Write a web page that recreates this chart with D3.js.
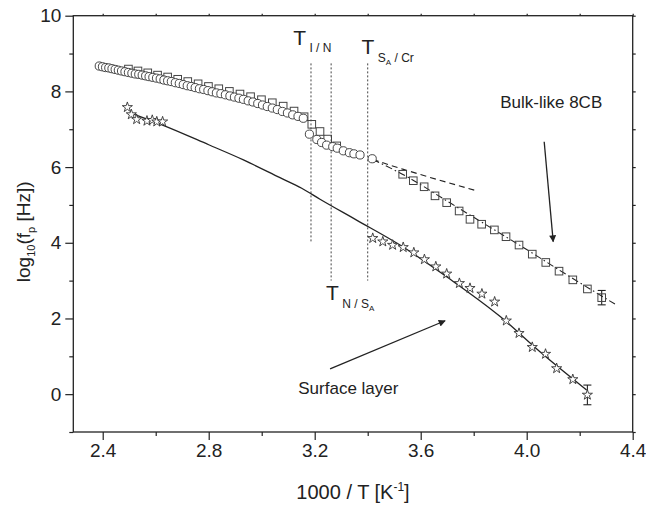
<!DOCTYPE html>
<html>
<head>
<meta charset="utf-8">
<script src="https://cdn.jsdelivr.net/npm/d3@7"></script>
<style>
body{margin:0;background:#fff;}
svg text{font-family:"Liberation Sans",Arial,sans-serif;fill:#222;}
</style>
</head>
<body>
<div id="root"></div>
<script>
// data: [1000/T, log10(fp)]
var circles=[[2.387,8.67],[2.399,8.65],[2.411,8.63],[2.423,8.62],[2.435,8.60],[2.447,8.58],[2.459,8.56],[2.471,8.54],[2.484,8.52],[2.497,8.50],
[2.510,8.48],[2.523,8.46],[2.536,8.45],[2.549,8.43],[2.562,8.41],[2.575,8.39],[2.589,8.37],[2.603,8.35],[2.617,8.33],[2.631,8.30],
[2.645,8.28],[2.659,8.26],[2.674,8.23],[2.689,8.21],[2.704,8.18],[2.719,8.15],[2.734,8.13],[2.749,8.10],[2.765,8.07],[2.781,8.05],
[2.797,8.02],[2.813,7.99],[2.829,7.96],[2.846,7.94],[2.863,7.91],[2.880,7.88],[2.897,7.85],[2.914,7.82],[2.931,7.79],[2.949,7.75],
[2.967,7.72],[2.985,7.68],[3.003,7.64],[3.021,7.60],[3.040,7.56],[3.059,7.52],[3.078,7.47],[3.097,7.43],[3.117,7.38],[3.137,7.34],[3.157,7.29],
[3.180,6.87],[3.208,6.73],[3.226,6.65],[3.245,6.58],[3.268,6.54],[3.285,6.50],[3.308,6.43],[3.331,6.38],[3.348,6.35],[3.371,6.32],[3.417,6.22]];

var squares=[[2.497,8.59],[2.533,8.54],[2.570,8.49],[2.607,8.43],[2.645,8.38],[2.683,8.32],[2.721,8.26],[2.760,8.20],[2.799,8.13],[2.838,8.07],
[2.878,8.00],[2.918,7.93],[2.958,7.86],[2.999,7.78],[3.040,7.70],[3.081,7.61],[3.122,7.48],[3.160,7.33],[3.189,7.13],[3.220,6.94],[3.249,6.74],[3.283,6.56],
[3.532,5.81],[3.572,5.64],[3.613,5.48],[3.654,5.24],[3.698,5.06],[3.745,4.84],[3.786,4.62],[3.830,4.49],[3.878,4.34],[3.922,4.16],
[3.971,3.94],[4.021,3.70],[4.072,3.48],[4.122,3.25],[4.174,3.02],[4.229,2.78],[4.283,2.55]];
var squareErr=[[4.283,0.19]];

var stars=[[2.493,7.58],[2.508,7.39],[2.528,7.26],[2.567,7.22],[2.587,7.24],[2.604,7.20],[2.626,7.20],
[3.419,4.12],[3.457,4.03],[3.494,3.94],[3.534,3.88],[3.574,3.74],[3.614,3.56],[3.657,3.37],[3.698,3.18],[3.746,2.93],
[3.786,2.80],[3.831,2.65],[3.879,2.44],[3.923,1.94],[3.971,1.61],[4.021,1.24],[4.071,1.06],[4.113,0.68],[4.174,0.39],[4.229,-0.02]];
var starErr=[[4.229,0.26]];

var surfaceFit=[[2.516,7.40],[2.626,7.11],[2.800,6.59],[2.931,6.19],[3.069,5.72],[3.151,5.44],[3.220,5.15],[3.358,4.60],
[3.522,3.94],[3.698,3.10],[3.900,2.05],[4.050,1.12],[4.226,0.11]];
var bulkFit=[[3.419,6.20],[3.550,5.74],[3.700,5.10],[3.850,4.46],[4.000,3.82],[4.150,3.16],[4.333,2.38]];
var extrapLine=[[3.419,6.20],[3.535,5.94],[3.813,5.37]];

// transition lines: x, top, bottom
var transitions=[[3.186,8.74,4.0],[3.262,8.74,3.0],[3.400,8.74,3.0]];

var xMajor=[2.4,2.8,3.2,3.6,4.0,4.4];
var xMinor=[2.6,3.0,3.4,3.8,4.2];
var yMajor=[0,2,4,6,8,10];
var yMinor=[-1,1,3,5,7,9];

var W=646,H=505;
var pL=73.3,pR=632.7,pT=15.7,pB=432;

var svg=d3.select('#root').append('svg').attr('width',W).attr('height',H);

var x=d3.scaleLinear().domain([2.289,4.4]).range([pL,pR]);
var y=d3.scaleLinear().domain([-1,10]).range([pB,pT]);

var ink='#222';

// axes
function tidy(sel){sel.select('.domain').remove();sel.selectAll('line').attr('stroke',ink).attr('stroke-width',1.2);}
svg.append('g').attr('transform','translate(0,'+pB+')')
	.call(d3.axisBottom(x).tickValues(xMajor).tickSize(8).tickPadding(4).tickFormat(d3.format('.1f')))
	.call(tidy).selectAll('text').style('font-size','19px').attr('fill',ink);
svg.append('g').attr('transform','translate(0,'+pB+')')
	.call(d3.axisBottom(x).tickValues(xMinor).tickSize(4).tickFormat(''))
	.call(tidy);
svg.append('g').attr('transform','translate('+pL+',0)')
	.call(d3.axisLeft(y).tickValues(yMajor).tickSize(8).tickPadding(4))
	.call(tidy).selectAll('text').style('font-size','19px').attr('fill',ink);
svg.append('g').attr('transform','translate('+pL+',0)')
	.call(d3.axisLeft(y).tickValues(yMinor).tickSize(4).tickFormat(''))
	.call(tidy);
svg.append('g').attr('transform','translate(0,'+pT+')')
	.call(d3.axisTop(x).tickValues(xMajor.concat(xMinor)).tickSize(2).tickFormat(''))
	.call(tidy);
svg.append('g').attr('transform','translate('+pR+',0)')
	.call(d3.axisRight(y).tickValues(yMajor.concat(yMinor)).tickSize(3).tickFormat(''))
	.call(tidy);

svg.append('rect').attr('x',pL).attr('y',pT).attr('width',pR-pL).attr('height',pB-pT)
	.attr('fill','none').attr('stroke',ink).attr('stroke-width',1.3);

// axis titles
var xt=svg.append('text').attr('x',(pL+pR)/2).attr('y',499).attr('text-anchor','middle').style('font-size','20px');
xt.append('tspan').text('1000 / T [K');
xt.append('tspan').attr('dy',-8).style('font-size','12px').text('-1');
xt.append('tspan').attr('dy',8).text(']');

var yt=svg.append('text').attr('transform','translate(30,'+((pT+pB)/2+8)+') rotate(-90)')
	.attr('text-anchor','middle').style('font-size','19px');
yt.append('tspan').text('log');
yt.append('tspan').attr('dy',5).style('font-size','11px').text('10');
yt.append('tspan').attr('dy',-5).text('(f');
yt.append('tspan').attr('dy',5).style('font-size','11px').text('p');
yt.append('tspan').attr('dy',-5).text(' [Hz])');

var line=d3.line().curve(d3.curveMonotoneX).x(function(d){return x(d[0])}).y(function(d){return y(d[1])});

// transition markers
svg.selectAll('.trans').data(transitions).enter().append('line').attr('class','trans')
	.attr('x1',function(d){return x(d[0])}).attr('x2',function(d){return x(d[0])})
	.attr('y1',function(d){return y(d[1])}).attr('y2',function(d){return y(d[2])})
	.attr('stroke','#444').attr('stroke-width',1).attr('stroke-dasharray','2,2');

// fits
svg.append('path').attr('d',line(surfaceFit)).attr('fill','none').attr('stroke',ink).attr('stroke-width',1.3);
svg.append('path').attr('d',line(bulkFit)).attr('fill','none').attr('stroke',ink).attr('stroke-width',1.1).attr('stroke-dasharray','7,3,1.5,3');
svg.append('path').attr('d',line(extrapLine)).attr('fill','none').attr('stroke',ink).attr('stroke-width',1.1).attr('stroke-dasharray','6,4');

// error bars
function drawErr(pts,errs){
	errs.forEach(function(e){
		var p=pts.filter(function(d){return d[0]===e[0]})[0];
		var cx=x(p[0]),lo=y(p[1]-e[1]),hi=y(p[1]+e[1]);
		svg.append('line').attr('x1',cx).attr('x2',cx).attr('y1',lo).attr('y2',hi).attr('stroke',ink).attr('stroke-width',1.1);
		[lo,hi].forEach(function(yy){
			svg.append('line').attr('x1',cx-4).attr('x2',cx+4).attr('y1',yy).attr('y2',yy).attr('stroke',ink).attr('stroke-width',1.1);
		});
	});
}
drawErr(squares,squareErr);
drawErr(stars,starErr);

// markers
svg.selectAll('.sq').data(squares).enter().append('rect').attr('class','sq')
	.attr('x',function(d){return x(d[0])-3.8}).attr('y',function(d){return y(d[1])-3.8})
	.attr('width',7.6).attr('height',7.6).attr('fill','none').attr('stroke','#444').attr('stroke-width',1);

svg.selectAll('.ci').data(circles).enter().append('circle').attr('class','ci')
	.attr('cx',function(d){return x(d[0])}).attr('cy',function(d){return y(d[1])})
	.attr('r',4.1).attr('fill','#fff').attr('stroke','#333').attr('stroke-width',0.9);

var star=d3.symbol().type(d3.symbolStar).size(32);
svg.selectAll('.st').data(stars).enter().append('path').attr('class','st')
	.attr('d',star).attr('transform',function(d){return 'translate('+x(d[0])+','+y(d[1])+')'})
	.attr('fill','#fff').attr('stroke','#333').attr('stroke-width',0.9);

// transition labels
function tlabel(px,py,parts){
	var t=svg.append('text').attr('x',x(px)).attr('y',y(py)).style('font-size','21px');
	t.append('tspan').text('T');
	var sh=0;
	parts.forEach(function(p){
		var dy=p[1]-sh;sh=p[1];
		t.append('tspan').attr('dy',dy).style('font-size',p[2]+'px').text(p[0]);
	});
}
tlabel(3.119,9.22,[[' I / N',7,12]]);
tlabel(3.377,8.99,[[' S',8,12],['A',11,8],[' / Cr',8,12]]);
tlabel(3.243,2.49,[[' N / S',8,12],['A',11,8]]);

// annotations
var defs=svg.append('defs');
defs.append('marker').attr('id','ah').attr('viewBox','0 0 10 10').attr('refX',9).attr('refY',5)
	.attr('markerWidth',13).attr('markerHeight',7).attr('markerUnits','userSpaceOnUse').attr('orient','auto')
	.append('path').attr('d','M0,0L10,5L0,10z').attr('fill',ink);

var arrows=[[[4.066,6.67],[4.100,4.03]],[[3.258,0.67],[3.692,1.94]]];
svg.selectAll('.arr').data(arrows).enter().append('line').attr('class','arr')
	.attr('x1',function(d){return x(d[0][0])}).attr('y1',function(d){return y(d[0][1])})
	.attr('x2',function(d){return x(d[1][0])}).attr('y2',function(d){return y(d[1][1])})
	.attr('stroke',ink).attr('stroke-width',1.3).attr('marker-end','url(#ah)');

svg.append('text').attr('x',x(3.90)).attr('y',y(7.56)).style('font-size','17px').text('Bulk-like 8CB');
svg.append('text').attr('x',x(3.138)).attr('y',y(0.0)).style('font-size','17px').text('Surface layer');
</script>
</body>
</html>
